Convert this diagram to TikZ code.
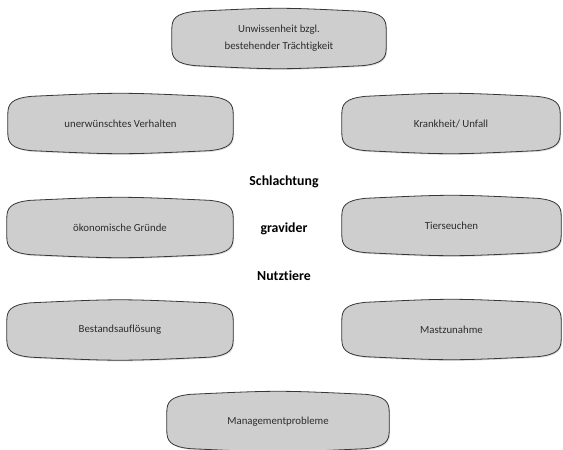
\documentclass[tikz,border=0pt]{standalone}
\usepackage{fontspec}
\setmainfont{Carlito}[Ligatures=NoCommon]
\usetikzlibrary{calc,shadows}
\definecolor{boxfill}{RGB}{206,206,206}
\definecolor{boxline}{RGB}{55,55,55}
\definecolor{boxtext}{RGB}{45,45,45}
\pgfdeclarelayer{background}
\pgfsetlayers{background,main}
\tikzset{
  causebox/.style={minimum width=#1, minimum height=54pt, inner sep=0pt,
    align=center, font=\fontsize{10.8}{17}\selectfont, text=boxtext},
  centerlabel/.style={font=\bfseries\fontsize{13.8}{15}\selectfont, text=black},
  barrel/.style={fill=boxfill, draw=boxline, line width=0.8pt,
    drop shadow={opacity=0.25, shadow xshift=1pt, shadow yshift=-1.2pt}}
}
\begin{document}
\begin{tikzpicture}[x=1pt,y=-1pt]
\useasboundingbox (0,0) rectangle (563,450);

\node[causebox=214pt] (unw) at (279,38.5) {Unwissenheit bzgl.\\ bestehender Trächtigkeit};
\node[causebox=225pt] (verh) at (120.5,123.5) {unerwünschtes Verhalten};
\node[causebox=218pt] (krank) at (451,123.5) {Krankheit/ Unfall};
\node[causebox=226pt] (oek) at (120,227.5) {ökonomische Gründe};
\node[causebox=219pt] (seuch) at (451.5,225.5) {Tierseuchen};
\node[causebox=226pt] (best) at (120,330) {Bestandsauflösung};
\node[causebox=219pt] (mast) at (451.5,329.5) {Mastzunahme};
\node[causebox=222pt] (mgmt) at (278,421.5) {Managementprobleme};

\node[centerlabel] (schl) at (284,182) {Schlachtung};
\node[centerlabel] (grav) at (284,229) {gravider};
\node[centerlabel] (nutz) at (284,276) {Nutztiere};

\begin{pgfonlayer}{background}
\foreach \b in {unw,verh,krank,oek,seuch,best,mast,mgmt}{
  \path[barrel] let \p1=(\b.north west), \p2=(\b.south east), \n1={0.5*(\x1+\x2)} in
    ({\x1+24pt},\y1) .. controls (\n1,{\y1+4pt}) .. ({\x2-24pt},\y1)
    .. controls ({\x2-3pt},{\y1-2pt}) and (\x2,{\y1-8pt}) .. (\x2,{\y1-18pt})
    -- (\x2,{\y2+18pt})
    .. controls (\x2,{\y2+8pt}) and ({\x2-3pt},{\y2+2pt}) .. ({\x2-24pt},\y2)
    .. controls (\n1,{\y2-4pt}) .. ({\x1+24pt},\y2)
    .. controls ({\x1+3pt},{\y2+2pt}) and (\x1,{\y2+8pt}) .. (\x1,{\y2+18pt})
    -- (\x1,{\y1-18pt})
    .. controls (\x1,{\y1-8pt}) and ({\x1+3pt},{\y1-2pt}) .. cycle;
}
\end{pgfonlayer}
\end{tikzpicture}
\end{document}
